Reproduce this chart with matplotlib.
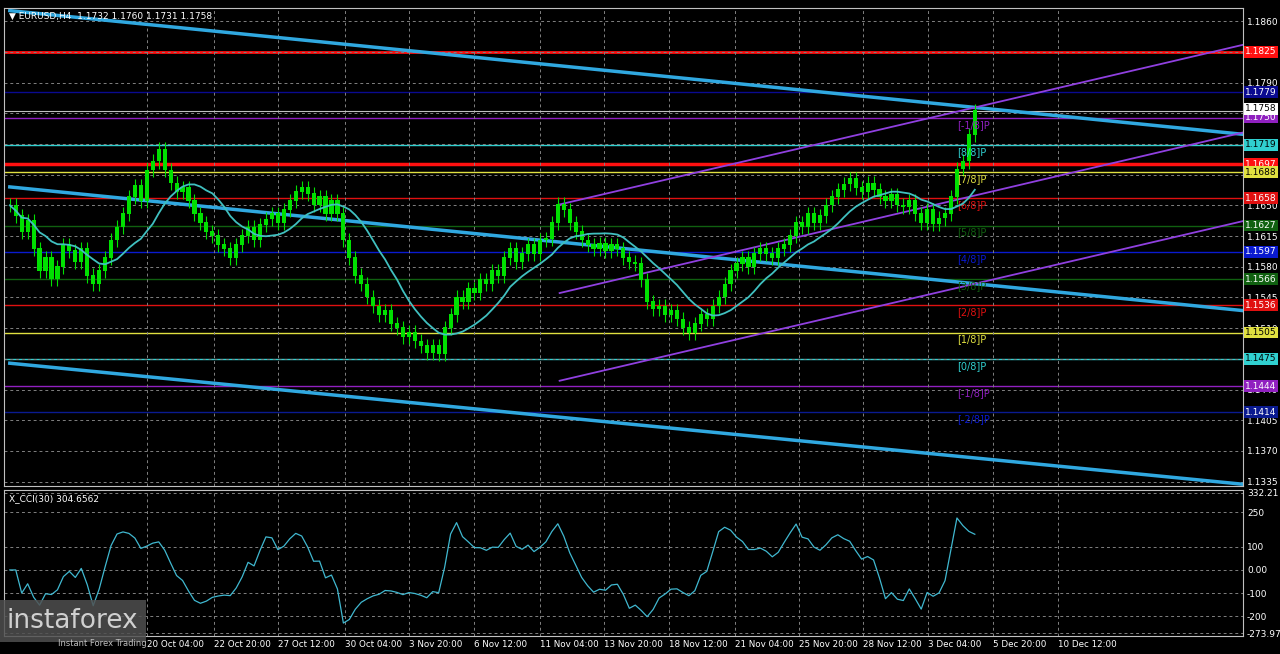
import matplotlib
matplotlib.use("Agg")
import matplotlib.pyplot as plt
import numpy as np
import pandas as pd

closes = [1.1650,1.1638,1.1620,1.1632,1.1600,1.1575,1.1590,1.1566,1.1580,1.1605,
1.1598,1.1585,1.1600,1.1570,1.1560,1.1575,1.1590,1.1610,1.1625,1.1640,
1.1660,1.1672,1.1655,1.1690,1.1700,1.1714,1.1690,1.1675,1.1665,1.1670,
1.1655,1.1640,1.1630,1.1620,1.1615,1.1605,1.1600,1.1590,1.1605,1.1615,
1.1625,1.1610,1.1628,1.1634,1.1640,1.1630,1.1645,1.1655,1.1665,1.1670,
1.1663,1.1650,1.1660,1.1640,1.1655,1.1640,1.1610,1.1590,1.1570,1.1560,
1.1545,1.1535,1.1525,1.1530,1.1515,1.1510,1.1500,1.1505,1.1495,1.1490,
1.1482,1.1490,1.1480,1.1510,1.1525,1.1545,1.1540,1.1555,1.1550,1.1565,
1.1560,1.1575,1.1570,1.1590,1.1600,1.1585,1.1595,1.1605,1.1595,1.1610,
1.1612,1.1630,1.1651,1.1645,1.1630,1.1620,1.1610,1.1605,1.1600,1.1606,
1.1598,1.1605,1.1600,1.1590,1.1585,1.1583,1.1565,1.1540,1.1532,1.1535,
1.1525,1.1530,1.1520,1.1510,1.1505,1.1515,1.1525,1.1520,1.1535,1.1545,
1.1560,1.1575,1.1583,1.1590,1.1580,1.1595,1.1600,1.1595,1.1590,1.1600,
1.1605,1.1615,1.1630,1.1625,1.1640,1.1630,1.1638,1.1650,1.1660,1.1668,
1.1674,1.1680,1.1670,1.1665,1.1675,1.1668,1.1660,1.1655,1.1662,1.1650,
1.1648,1.1655,1.1640,1.1630,1.1645,1.1629,1.1635,1.1640,1.1660,1.1691,
1.1700,1.1730,1.1758]

levels = [1.1825,1.1779,1.1750,1.1719,1.1697,1.1688,1.1658,1.1627,1.1597,1.1566,1.1536,1.1505,1.1475,1.1444,1.1414]
level_colors = ['#ff1010','#0a0a90','#9020c0','#30d0d0','#ff1010','#e0e040','#e01010','#106010','#0a1ad0','#106010','#e01010','#e0e040','#30d0d0','#9020c0','#0a1a90']
level_widths = [2,1,1,1,2.5,1,1,1,1,1,1,1,1,1,1]
murray_labels = ['[-1/8]P','[8/8]P','[7/8]P','[6/8]P','[5/8]P','[4/8]P','[3/8]P','[2/8]P','[1/8]P','[0/8]P','[-1/8]P','[-2/8]P']
murray_prices = [1.1750,1.1719,1.1688,1.1658,1.1627,1.1597,1.1566,1.1536,1.1505,1.1475,1.1444,1.1414]
murray_colors = ['#9020c0','#30d0d0','#e0e040','#e01010','#106010','#0a1ad0','#106010','#e01010','#e0e040','#30d0d0','#9020c0','#0a1ad0']
xtick_pos = [23,34.2,45,56.2,67,78,89,99.7,110.7,121.7,132.5,143.3,154.2,165,176]
xtick_labels = ['20 Oct 04:00','22 Oct 20:00','27 Oct 12:00','30 Oct 04:00','3 Nov 20:00','6 Nov 12:00',
 '11 Nov 04:00','13 Nov 20:00','18 Nov 12:00','21 Nov 04:00','25 Nov 20:00','28 Nov 12:00',
 '3 Dec 04:00','5 Dec 20:00','10 Dec 12:00']
cyan_lines = [((0,1.1872),(207,1.1731)),((0,1.1671),(207,1.1530)),((0,1.1470),(207,1.1332))]
purple_lines = [((92.3,1.1651),(207,1.1833)),((92.3,1.1550),(207,1.1733)),((92.3,1.1450),(207,1.1632))]
cci_ticks = [332.21,250,100,0,-100,-200,-273.973]

c = np.array(closes)
o = np.r_[c[0], c[:-1]]
h = np.maximum(o, c) + 0.0008
l = np.minimum(o, c) - 0.0008
x = np.arange(len(c))
ma = pd.Series(c).rolling(12, min_periods=1).mean()
tp = (h + l + c) / 3
tps = pd.Series(tp)
W = 10
sma = tps.rolling(W, min_periods=3).mean()
md = tps.rolling(W, min_periods=3).apply(lambda v: np.mean(np.abs(v - v.mean())), raw=True)
cci = ((tps - sma) / (0.015 * md)).fillna(0).clip(-265, 320)

fig = plt.figure(figsize=(12.8, 6.54), dpi=100, facecolor='black')
ax = fig.add_axes([0.003, 1 - 486/654, 0.968, 478/654], facecolor='black')
ax2 = fig.add_axes([0.003, 1 - 636/654, 0.968, 146/654], facecolor='black')
XMAX = 207
for a in (ax, ax2):
    a.set_xlim(-1, XMAX)
    for s in a.spines.values():
        s.set_color('#c0c0c0')
    a.grid(True, color='#808080', ls=(0, (3, 3)), lw=0.7)
    a.yaxis.tick_right()
    a.tick_params(colors='white', labelsize=6.5, length=0, pad=3)
ax.set_ylim(1.1330, 1.1875)
yt = np.arange(1.1335, 1.1870, 0.0035)
ax.set_yticks(yt)
ax.set_yticklabels([f'{v:.4f}' for v in yt])
ax.set_xticks(xtick_pos); ax.set_xticklabels([])

for lv, col, lw in zip(levels, level_colors, level_widths):
    ax.axhline(lv, color=col, lw=lw, zorder=1)
    ax.text(1.002, lv, f'{lv:.4f}', transform=ax.get_yaxis_transform(), fontsize=6.5,
            color='white' if col not in ('#e0e040', '#30d0d0') else 'black',
            va='center', ha='left', bbox=dict(boxstyle='square,pad=0.15', fc=col, ec='none'), zorder=5, clip_on=False)
ax.axhline(c[-1], color='#c0c0c0', lw=0.8)
ax.text(1.002, c[-1] + 0.0002, f'{c[-1]:.4f}', transform=ax.get_yaxis_transform(), fontsize=6.5, color='black', va='center',
        bbox=dict(boxstyle='square,pad=0.15', fc='white', ec='none'), clip_on=False, zorder=6)
for lab, p, col in zip(murray_labels, murray_prices, murray_colors):
    ax.text(159, p - 0.0008, lab, fontsize=7, color=col, va='center', ha='left', zorder=4)

for (x0, y0), (x1, y1) in cyan_lines:
    ax.plot([x0, x1], [y0, y1], color='#30a8e0', lw=2.5, zorder=2)
for (x0, y0), (x1, y1) in purple_lines:
    ax.plot([x0, x1], [y0, y1], color='#9040e0', lw=1.3, zorder=2)

ax.vlines(x, l, h, color='#00e000', lw=0.8, zorder=3)
ax.bar(x, np.abs(c - o) + 0.00008, bottom=np.minimum(o, c), width=0.7, color='#00e000', zorder=3)
ax.plot(x, ma, color='#40c0c0', lw=1.3, zorder=4)
ax.text(0.004, 0.992, '▼ EURUSD,H4  1.1732 1.1760 1.1731 1.1758', transform=ax.transAxes, color='white', fontsize=6.5, va='top')

ax2.set_ylim(-285, 345)
ax2.set_yticks(cci_ticks)
ax2.set_yticklabels(['332.21', '250', '100', '0.00', '-100', '-200', '-273.97'])
ax2.plot(x, cci, color='#40b8d0', lw=0.9)
ax2.text(0.004, 0.97, 'X_CCI(30) 304.6562', transform=ax2.transAxes, color='white', fontsize=6.5, va='top')
ax2.set_xticks(xtick_pos)
ax2.set_xticklabels(xtick_labels, fontsize=6.3, color='white', ha='left')

fig.text(0.005, 0.030, 'instaforex', fontsize=19, color='#d0d0d0', va='bottom',
         bbox=dict(boxstyle='square,pad=0.3', fc='#505050', ec='none', alpha=0.85))
fig.text(0.045, 0.012, 'Instant Forex Trading', fontsize=6, color='#c0c0c0')
fig.savefig('out.png', dpi=100, facecolor='black')
